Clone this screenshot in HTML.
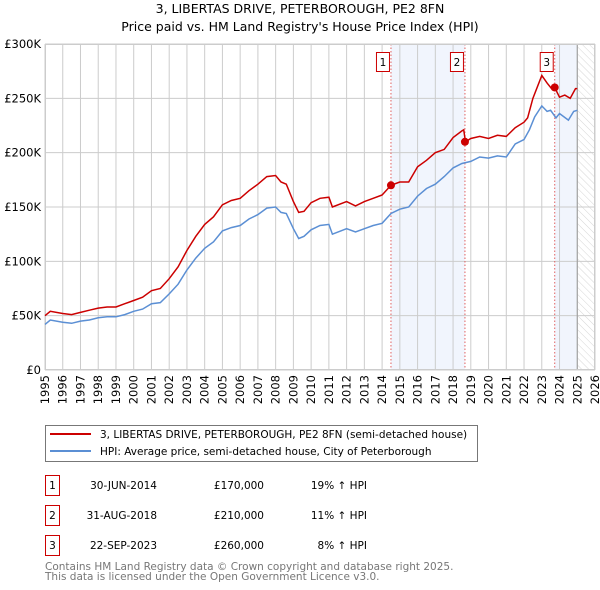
<!DOCTYPE html>
<html><head><meta charset="utf-8"><style>
body{margin:0;background:#fff;font-family:"DejaVu Sans","Liberation Sans",sans-serif;}
svg{display:block}
</style></head><body>
<svg id="c" width="600" height="590" xmlns="http://www.w3.org/2000/svg" font-family="DejaVu Sans, Liberation Sans, sans-serif">
<text x="300" y="13" font-size="12.5" text-anchor="middle">3, LIBERTAS DRIVE, PETERBOROUGH, PE2 8FN</text>
<text x="300" y="31" font-size="12.5" text-anchor="middle">Price paid vs. HM Land Registry's House Price Index (HPI)</text>
<defs><pattern id="h" width="5" height="5" patternUnits="userSpaceOnUse" patternTransform="rotate(-45)"><line x1="0" y1="0" x2="0" y2="5" stroke="#ccc" stroke-width="0.8"/></pattern></defs>
<g id="grid"></g><g id="marks"></g>
<g>
<rect x="45.5" y="425.5" width="432" height="36" fill="#fff" stroke="#777"/>
<line x1="50" y1="434" x2="91" y2="434" stroke="#c00" stroke-width="2"/>
<text x="100" y="438" font-size="10.5">3, LIBERTAS DRIVE, PETERBOROUGH, PE2 8FN (semi-detached house)</text>
<line x1="50" y1="451" x2="91" y2="451" stroke="#5b8fd4" stroke-width="2"/>
<text x="100" y="455" font-size="10.5">HPI: Average price, semi-detached house, City of Peterborough</text>
</g>
<g font-size="10.5">
<rect x="45.5" y="475.5" width="14" height="20" fill="#fff" stroke="#c00"/><text x="52.5" y="489" text-anchor="middle">1</text>
<text x="157" y="489" text-anchor="end">30-JUN-2014</text><text x="264" y="489" text-anchor="end">£170,000</text><text x="367" y="489" text-anchor="end">19% ↑ HPI</text>
<rect x="45.5" y="505.5" width="14" height="20" fill="#fff" stroke="#c00"/><text x="52.5" y="519" text-anchor="middle">2</text>
<text x="157" y="519" text-anchor="end">31-AUG-2018</text><text x="264" y="519" text-anchor="end">£210,000</text><text x="367" y="519" text-anchor="end">11% ↑ HPI</text>
<rect x="45.5" y="535.5" width="14" height="20" fill="#fff" stroke="#c00"/><text x="52.5" y="549" text-anchor="middle">3</text>
<text x="157" y="549" text-anchor="end">22-SEP-2023</text><text x="264" y="549" text-anchor="end">£260,000</text><text x="367" y="549" text-anchor="end">8% ↑ HPI</text>
</g>
<text x="45" y="570" font-size="10.5" fill="#777">Contains HM Land Registry data © Crown copyright and database right 2025.</text>
<text x="45" y="580" font-size="10.5" fill="#777">This data is licensed under the Open Government Licence v3.0.</text>
</svg>
<script>
const hpiYears=[1995,1995.3,1996,1996.5,1997,1997.5,1998,1998.5,1999,1999.5,2000,2000.5,2001,2001.5,2002,2002.5,2003,2003.5,2004,2004.5,2005,2005.5,2006,2006.5,2007,2007.5,2008,2008.3,2008.6,2009,2009.3,2009.6,2010,2010.5,2011,2011.2,2012,2012.5,2013,2013.5,2014,2014.5,2015,2015.5,2016,2016.5,2017,2017.5,2018,2018.5,2019,2019.5,2020,2020.5,2021,2021.5,2022,2022.3,2022.6,2023,2023.3,2023.5,2023.8,2024,2024.5,2024.8,2025];
const hpiValues=[42,46,44,43,45,46,48,49,49,51,54,56,61,62,70,79,92,103,112,118,128,131,133,139,143,149,150,145,144,130,121,123,129,133,134,125,130,127,130,133,135,144,148,150,160,167,171,178,186,190,192,196,195,197,196,208,212,221,233,243,238,239,232,236,230,238,239];
const priceYears=[1995,1995.3,1996,1996.5,1997,1997.5,1998,1998.5,1999,1999.5,2000,2000.5,2001,2001.5,2002,2002.5,2003,2003.5,2004,2004.5,2005,2005.5,2006,2006.5,2007,2007.5,2008,2008.3,2008.6,2009,2009.3,2009.6,2010,2010.5,2011,2011.2,2012,2012.5,2013,2013.5,2014,2014.5,2015,2015.5,2016,2016.5,2017,2017.5,2018,2018.5,2018.6,2018.7,2019,2019.5,2020,2020.5,2021,2021.5,2022,2022.2,2022.5,2023,2023.3,2023.6,2023.73,2024,2024.3,2024.6,2024.9,2025];
const priceValues=[50,54,52,51,53,55,57,58,58,61,64,67,73,75,84,95,110,123,134,141,152,156,158,165,171,178,179,173,171,155,145,146,154,158,159,150,155,151,155,158,161,170,173,173,187,193,200,203,214,220,221,210,213,215,213,216,215,223,228,232,250,271,264,258,260,251,253,250,259,259];
const saleLabels=["1","2","3"];
const saleYears=[2014.5,2018.67,2023.73];
const saleValues=[170,210,260];
const yTicks=[0,50,100,150,200,250,300];
const yTickLabels=["£0","£50K","£100K","£150K","£200K","£250K","£300K"];
const xTicks=[1995,1996,1997,1998,1999,2000,2001,2002,2003,2004,2005,2006,2007,2008,2009,2010,2011,2012,2013,2014,2015,2016,2017,2018,2019,2020,2021,2022,2023,2024,2025,2026];
const L=45,R=595,T=44,B=370;
const X=y=>L+(y-1995)*(R-L)/31, Y=v=>B-v*(B-T)/300;
const NS="http://www.w3.org/2000/svg";
const grid=document.getElementById('grid'),marks=document.getElementById('marks');
function mk(p,tag,at){const e=document.createElementNS(NS,tag);for(const k in at)e.setAttribute(k,at[k]);p.appendChild(e);return e;}
for(let i=0;i<saleYears.length;i+=2){const x0=X(saleYears[i]);const x1=i<saleYears.length-1?X(saleYears[i+1]):X(2025);
const r=mk(grid,'rect',{x:x0,y:T,width:x1-x0,height:B-T,fill:'#eef3fc',opacity:0.8});

}
const hz=mk(grid,'rect',{x:X(2025),y:T,width:R-X(2025),height:B-T,fill:'url(#h)'});


xTicks.forEach(t=>{mk(grid,'line',{x1:X(t),x2:X(t),y1:T,y2:B,stroke:'#ccc'});
const tx=mk(grid,'text',{x:0,y:0,'font-size':11.5,'text-anchor':'end',transform:`translate(${X(t)+4},${B+5}) rotate(-90)`});tx.textContent=t;

});
yTicks.forEach((t,i)=>{mk(grid,'line',{x1:L,x2:R,y1:Y(t),y2:Y(t),stroke:'#ccc'});
const tx=mk(grid,'text',{x:L-4,y:Y(t)+4,'font-size':11.5,'text-anchor':'end'});tx.textContent=yTickLabels[i];

});
mk(grid,'line',{x1:X(2025),x2:X(2025),y1:T,y2:B,stroke:'#999','stroke-width':1});
saleYears.forEach(s=>mk(grid,'line',{x1:X(s),x2:X(s),y1:T,y2:B,stroke:'#e06060','stroke-dasharray':'1.5,2'}));
const pts=(xs,vs)=>xs.map((x,i)=>X(x).toFixed(1)+','+Y(vs[i]).toFixed(1)).join(' ');
const hl=mk(marks,'polyline',{points:pts(hpiYears,hpiValues),fill:'none',stroke:'#5b8fd4','stroke-width':1.5});


const pl=mk(marks,'polyline',{points:pts(priceYears,priceValues),fill:'none',stroke:'#c00','stroke-width':1.5});


saleYears.forEach((s,i)=>{const c=mk(marks,'circle',{cx:X(s),cy:Y(saleValues[i]),r:4,fill:'#c00'});


const bx=X(s)-15;const g=mk(marks,'g',{});


mk(g,'rect',{x:bx+0.5,y:52.5,width:13,height:19,fill:'#fff',stroke:'#c00'});
const t=mk(g,'text',{x:bx+7,y:66,'font-size':10.5,'text-anchor':'middle'});t.textContent=saleLabels[i];});
mk(grid,'rect',{x:L+0.5,y:T+0.5,width:R-L-1,height:B-T-1,fill:'none',stroke:'#ccc'});
</script>
</body></html>
